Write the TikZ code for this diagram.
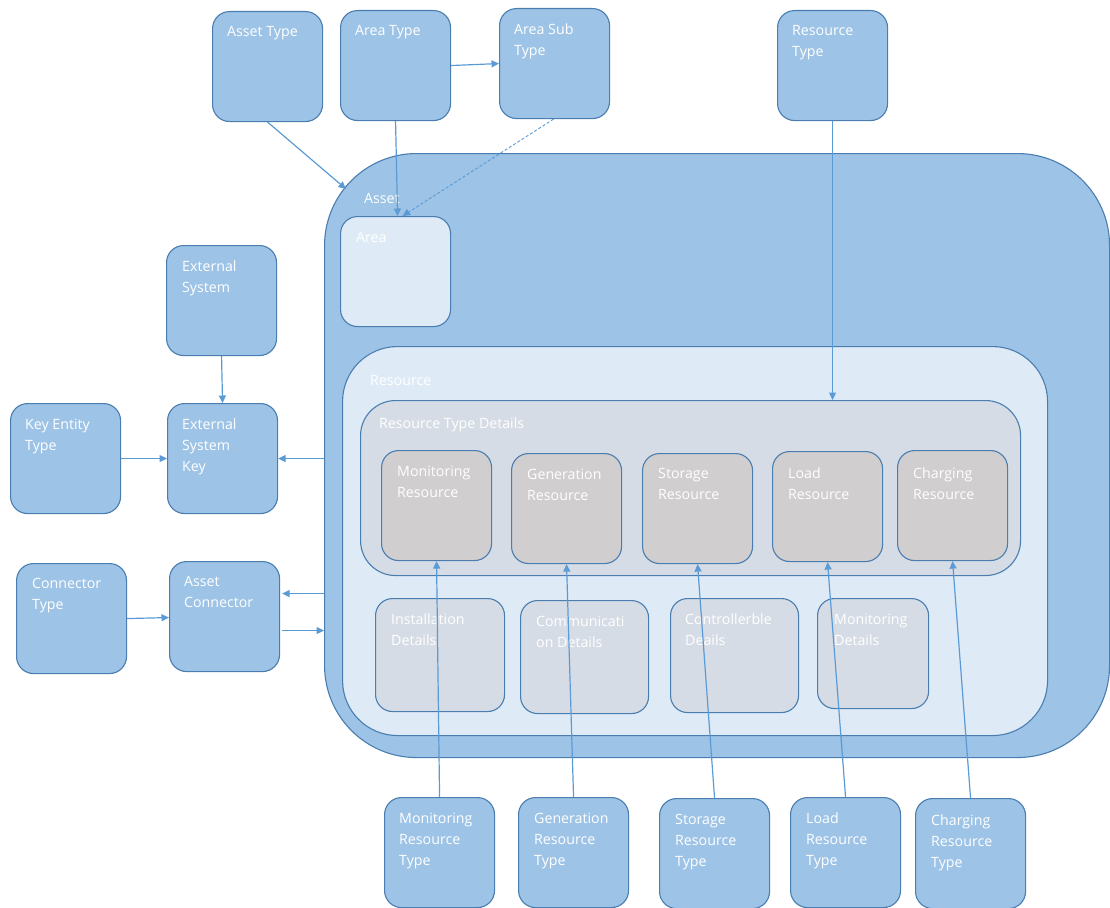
\documentclass[tikz,border=0pt]{standalone}
\usepackage{fontspec}
\setmainfont{Open Sans}
\usetikzlibrary{arrows.meta}
\definecolor{boxfill}{HTML}{9DC3E6}
\definecolor{boxline}{HTML}{4A7EB0}
\definecolor{palefill}{HTML}{DEEBF7}
\definecolor{greyfill}{HTML}{D6DCE5}
\definecolor{resfill}{HTML}{D0CECE}
\definecolor{arrowcol}{HTML}{5B9BD5}
\begin{document}
\begin{tikzpicture}[x=1pt,y=-1pt,
  shape base/.style={draw=boxline, line width=1.1pt, anchor=north west, inner sep=0pt},
  entity/.style={shape base, fill=boxfill, rounded corners=17pt, minimum width=110pt, minimum height=110pt},
  inner/.style={shape base, fill=resfill, rounded corners=17pt, minimum width=110pt, minimum height=110pt},
  detail/.style={shape base, fill=greyfill, rounded corners=17pt, minimum height=113pt},
  lbl/.style={anchor=north west, text=white, align=left, inner sep=0pt, yshift=-3.5pt,
    font=\fontsize{14.2}{21}\selectfont},
  arr/.style={draw=arrowcol, line width=1.2pt, -{Triangle[length=7.5pt,width=7pt]}},
]
\useasboundingbox (0,0) rectangle (1110,907);

% containers
\node[shape base, fill=boxfill, rounded corners=92pt, minimum width=785pt, minimum height=604pt] (asset) at (324,153) {};
\node[lbl] (assetl) at (364,190) {Asset};
\node[shape base, fill=palefill, rounded corners=17pt, minimum width=110pt, minimum height=110pt] (area) at (340,216) {};
\node[lbl] (areal) at (356,229) {Area};
\node[shape base, fill=palefill, rounded corners=55pt, minimum width=705pt, minimum height=389pt] (res) at (342,346) {};
\node[lbl] (resl) at (370,372) {Resource};
\node[shape base, fill=greyfill, rounded corners=35pt, minimum width=660pt, minimum height=175pt] (rtd) at (360,400) {};
\node[lbl] (rtdl) at (379,414) {Resource Type Details};

% resource kinds
\node[inner] (mr) at (381,450) {};
\node[lbl] (mrl) at (397,462) {Monitoring\\Resource};
\node[inner] (gr) at (511,453) {};
\node[lbl] (grl) at (527,465) {Generation\\Resource};
\node[inner] (sr) at (642,453) {};
\node[lbl] (srl) at (658,465) {Storage\\Resource};
\node[inner] (lr) at (772,451) {};
\node[lbl] (lrl) at (788,464) {Load\\Resource};
\node[inner] (cr) at (897,450) {};
\node[lbl] (crl) at (913,464) {Charging\\Resource};

% details
\node[detail, minimum width=129pt] (inst) at (375,598) {};
\node[lbl] (instl) at (391,610) {Installation\\Details};
\node[detail, minimum width=128pt] (comm) at (520,600) {};
\node[lbl] (comml) at (536,612) {Communicati\\on Details};
\node[detail, minimum width=128pt, minimum height=114pt] (ctrl) at (670,598) {};
\node[lbl] (ctrll) at (685,610) {Controllerble\\Deails};
\node[detail, minimum width=111pt, minimum height=110pt] (mond) at (817,598) {};
\node[lbl] (mondl) at (834,610) {Monitoring\\Details};

% type entities, top row
\node[entity] (atype) at (212,11) {};
\node[lbl] (atypel) at (227,23) {Asset Type};
\node[entity] (artype) at (340,10) {};
\node[lbl] (artypel) at (355,22) {Area Type};
\node[entity] (subtype) at (499,8) {};
\node[lbl] (subtypel) at (514,20) {Area Sub\\Type};
\node[entity] (rtype) at (777,10) {};
\node[lbl] (rtypel) at (792,22) {Resource\\Type};

% left side entities
\node[entity] (ext) at (166,245) {};
\node[lbl] (extl) at (182,257) {External\\System};
\node[entity] (ket) at (10,403) {};
\node[lbl] (ketl) at (25,415) {Key Entity\\Type};
\node[entity] (esk) at (167,403) {};
\node[lbl] (eskl) at (182,415) {External\\System\\Key};
\node[entity] (ct) at (16,563) {};
\node[lbl] (ctl) at (32,575) {Connector\\Type};
\node[entity] (ac) at (169,561) {};
\node[lbl] (acl) at (184,573) {Asset\\Connector};

% bottom row
\node[entity] (mrt) at (384,797) {};
\node[lbl] (mrtl) at (399,809) {Monitoring\\Resource\\Type};
\node[entity] (grt) at (518,797) {};
\node[lbl] (grtl) at (534,809) {Generation\\Resource\\Type};
\node[entity] (srt) at (659,798) {};
\node[lbl] (srtl) at (675,811) {Storage\\Resource\\Type};
\node[entity] (lrt) at (790,797) {};
\node[lbl] (lrtl) at (806,809) {Load\\Resource\\Type};
\node[entity] (crt) at (915,798) {};
\node[lbl] (crtl) at (931,811) {Charging\\Resource\\Type};

% connectors
\coordinate (assetcorner) at (346,189);
\coordinate (acin) at ([yshift=23pt,xshift=2pt]ac.east);
\coordinate (acout) at ([yshift=-14pt,xshift=2pt]ac.east);
\draw[arr] (atype.south) -- (assetcorner);
\draw[arr] (artype.south) -- ([xshift=2pt]area.north);
\draw[arr] (artype.east) -- (subtype.west);
\draw[arr, dashed, dash pattern=on 3pt off 2pt, line width=0.9pt] ([xshift=-1pt]subtype.south) -- ([xshift=7pt]area.north);
\draw[arr] (rtype.south) -- (rtype.south |- rtd.north);
\draw[arr] (ext.south) -- (esk.north);
\draw[arr] (ket.east) -- (esk.west);
\draw[arr] (asset.west |- esk.east) -- (esk.east);
\draw[arr] (ct.east) -- ([yshift=-1pt]ac.west);
\draw[arr] (asset.west |- acin) -- (acin);
\draw[arr] (acout) -- (asset.west |- acout);
\draw[arr] (mrt.north) -- (mr.south);
\draw[arr] (grt.north) -- (gr.south);
\draw[arr] (srt.north) -- (sr.south);
\draw[arr] (lrt.north) -- (lr.south);
\draw[arr] (crt.north) -- (cr.south);
\end{tikzpicture}
\end{document}
